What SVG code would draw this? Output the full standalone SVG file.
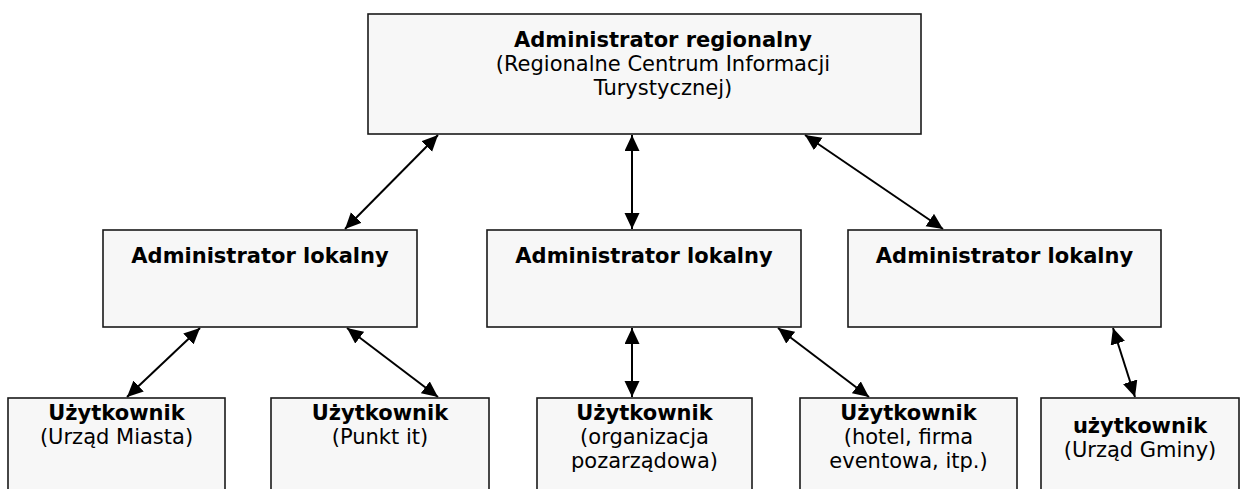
<svg xmlns="http://www.w3.org/2000/svg" width="1245" height="489" viewBox="0 0 1245 489">
<style>
.box{fill:#f7f7f7;stroke:#1a1a1a;stroke-width:1.6}
.t{font-family:"DejaVu Sans",Verdana,sans-serif;font-size:21px;fill:#000;text-anchor:middle}
.b{font-weight:bold}
.c{fill:none;stroke:#000;stroke-width:2;marker-start:url(#ah);marker-end:url(#ah)}
</style>
<defs>
<marker id="ah" markerUnits="userSpaceOnUse" markerWidth="17" markerHeight="16" refX="16" refY="7.5" orient="auto-start-reverse">
<path d="M0,0 L16,7.5 L0,15 z" fill="#000"/>
</marker>
</defs>
<rect width="1245" height="489" fill="#fff"/>
<g id="connectors">
<line class="c" x1="438" y1="135" x2="345" y2="229"/>
<line class="c" x1="632" y1="135" x2="632" y2="229"/>
<line class="c" x1="805" y1="135" x2="943" y2="229"/>
<line class="c" x1="200" y1="328" x2="127" y2="397"/>
<line class="c" x1="347" y1="328" x2="438" y2="397"/>
<line class="c" x1="632" y1="328" x2="632" y2="397"/>
<line class="c" x1="778" y1="328" x2="869" y2="397"/>
<line class="c" x1="1113" y1="328" x2="1135" y2="397"/>
</g>
<g id="regional">
<rect class="box" x="368" y="14" width="553" height="120"/>
<text class="t b" x="663" y="47">Administrator regionalny</text>
<text class="t" x="663" y="71">(Regionalne Centrum Informacji</text>
<text class="t" x="663" y="95">Turystycznej)</text>
</g>
<g id="local1">
<rect class="box" x="103" y="230" width="314" height="97"/>
<text class="t b" x="260" y="263">Administrator lokalny</text>
</g>
<g id="local2">
<rect class="box" x="487" y="230" width="314" height="97"/>
<text class="t b" x="644" y="263">Administrator lokalny</text>
</g>
<g id="local3">
<rect class="box" x="848" y="230" width="313" height="97"/>
<text class="t b" x="1004.5" y="263">Administrator lokalny</text>
</g>
<g id="user1">
<rect class="box" x="8" y="398" width="217" height="100"/>
<text class="t b" x="116.5" y="420">Użytkownik</text>
<text class="t" x="116.5" y="444">(Urząd Miasta)</text>
</g>
<g id="user2">
<rect class="box" x="271" y="398" width="218" height="100"/>
<text class="t b" x="380" y="420">Użytkownik</text>
<text class="t" x="380" y="444">(Punkt it)</text>
</g>
<g id="user3">
<rect class="box" x="537" y="398" width="215" height="100"/>
<text class="t b" x="644.5" y="420">Użytkownik</text>
<text class="t" x="644.5" y="444">(organizacja</text>
<text class="t" x="644.5" y="468">pozarządowa)</text>
</g>
<g id="user4">
<rect class="box" x="800" y="398" width="217" height="100"/>
<text class="t b" x="908.5" y="420">Użytkownik</text>
<text class="t" x="908.5" y="444">(hotel, firma</text>
<text class="t" x="908.5" y="468">eventowa, itp.)</text>
</g>
<g id="user5">
<rect class="box" x="1041" y="398" width="198" height="100"/>
<text class="t b" x="1140" y="433">użytkownik</text>
<text class="t" x="1140" y="457">(Urząd Gminy)</text>
</g>
</svg>
